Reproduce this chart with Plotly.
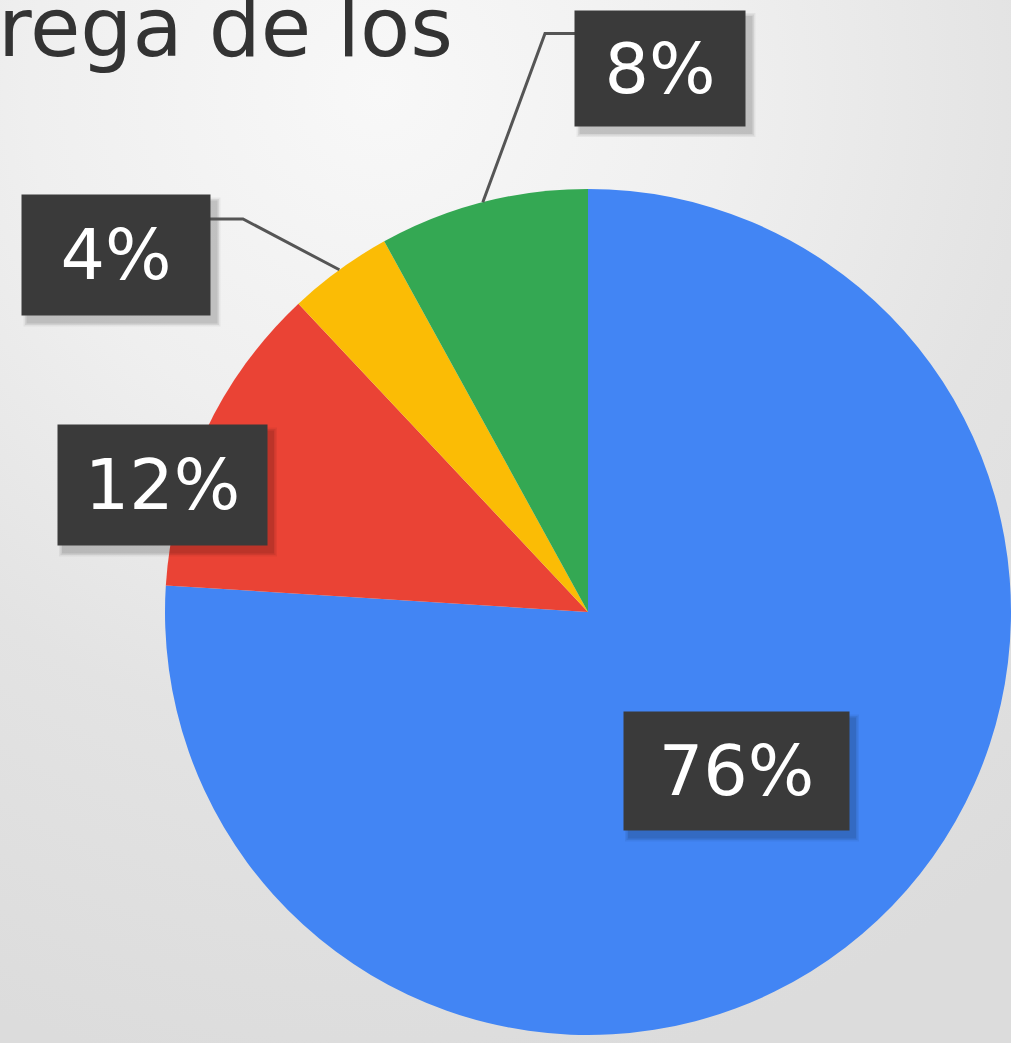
import math
import plotly.graph_objects as go

# Data
categories = ["Azul", "Rojo", "Amarillo", "Verde"]
values = [76, 12, 4, 8]
labels_text = ["76%", "12%", "4%", "8%"]
colors = ["#4285F4", "#EA4335", "#FBBC05", "#34A853"]
title_text = "rega de los"

W, H = 1011, 1043
# pie geometry in pixels (domain)
x0_px, x1_px = 165, 1011
cy_px = 612
r_px = (x1_px - x0_px) / 2
cx_px = (x0_px + x1_px) / 2

fig = go.Figure()
fig.add_trace(go.Pie(
    labels=categories, values=values, sort=False, direction="clockwise",
    rotation=0, marker=dict(colors=colors, line=dict(width=0)),
    textinfo="none", hoverinfo="label+percent", showlegend=False,
    domain=dict(x=[x0_px / W, x1_px / W],
                y=[(H - cy_px - r_px) / H, (H - cy_px + r_px) / H]),
))

# label boxes: center (px), size (px)
boxes = {
    "76%": (736, 771, 225, 118),
    "12%": (162, 485, 209, 120),
    "4%": (116, 255, 188, 120),
    "8%": (660, 68, 170, 115),
}

shapes = []
annotations = []
total = sum(values)
cum = 0
for cat, v, lab in zip(categories, values, labels_text):
    mid = (cum + v / 2) / total * 2 * math.pi
    cum += v
    bx, by, bw, bh = boxes[lab]
    # soft shadow
    for k, a in ((9, 0.05), (6, 0.07), (3, 0.09)):
        shapes.append(dict(type="rect", x0=bx - bw / 2 + 6 - k / 2, x1=bx + bw / 2 + 6 + k / 2,
                           y0=by - bh / 2 + 7 - k / 2, y1=by + bh / 2 + 7 + k / 2,
                           fillcolor=f"rgba(0,0,0,{a})", line=dict(width=0), layer="above"))
    if lab in ("8%", "4%"):
        ex = cx_px + r_px * math.sin(mid)
        ey = cy_px - r_px * math.cos(mid)
        if lab == "8%":
            sx, sy = bx - bw / 2, by - bh / 2 + 23
            kx = sx - 30
        else:
            sx, sy = bx + bw / 2, by - bh / 2 + 24
            kx = sx + 33
        shapes.append(dict(type="path",
                           path=f"M {sx},{sy} L {kx},{sy} L {ex},{ey}",
                           line=dict(color="#555555", width=3), layer="above"))
    annotations.append(dict(
        x=bx, y=by, xref="x", yref="y", text=lab, showarrow=False,
        width=bw, height=bh, bgcolor="#3a3a3a", borderpad=0,
        font=dict(family="DejaVu Sans", size=70, color="white"),
        xanchor="center", yanchor="middle", valign="middle",
    ))

annotations.append(dict(
    x=0, y=27, xref="x", yref="y", xshift=-4, text=title_text, showarrow=False,
    xanchor="left", yanchor="middle",
    font=dict(family="DejaVu Sans", size=82, color="#333333"),
))

fig.update_layout(
    width=W, height=H, margin=dict(l=0, r=0, t=0, b=0),
    paper_bgcolor="rgba(0,0,0,0)", plot_bgcolor="rgba(0,0,0,0)",
    xaxis=dict(range=[0, W], visible=False, fixedrange=True),
    yaxis=dict(range=[H, 0], visible=False, fixedrange=True),
    shapes=shapes, annotations=annotations,
)

post = (
    "document.body.style.margin='0';"
    "document.body.style.overflow='hidden';"
    "document.body.style.background='radial-gradient(circle at 380px 90px, "
    "#f8f8f8 0px, #efefef 350px, #e3e3e3 650px, #dcdcdc 1000px)';"
)
fig.write_html("out.html", post_script=post, config={"displayModeBar": False})
